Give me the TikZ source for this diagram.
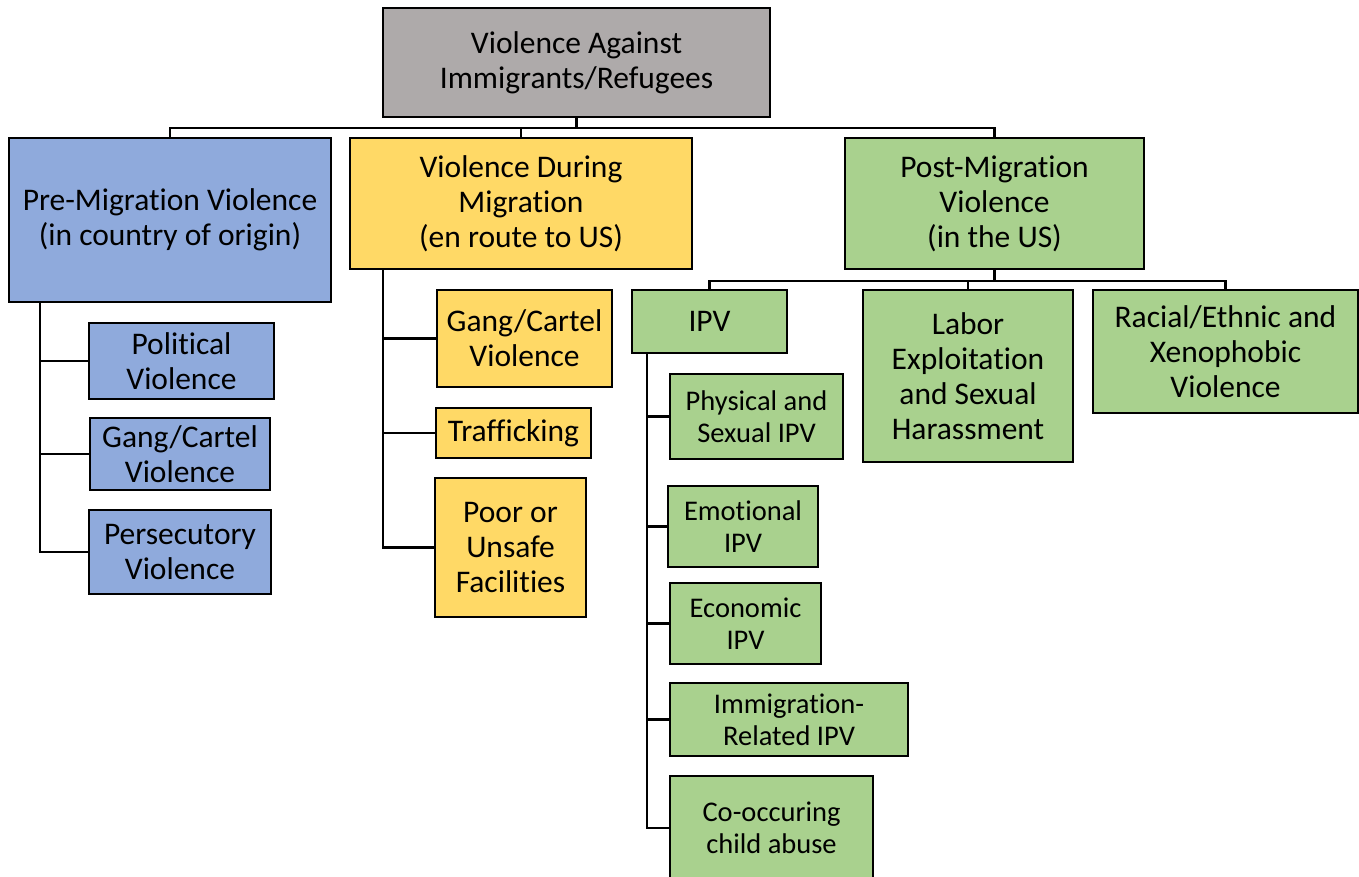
\documentclass[tikz,border=0pt]{standalone}
\usepackage{fontspec}
\setmainfont{Carlito}[Ligatures={NoCommon}]
\definecolor{cgray}{HTML}{AEAAAA}
\definecolor{cblue}{HTML}{8FAADC}
\definecolor{cyel}{HTML}{FFD966}
\definecolor{cgreen}{HTML}{A9D18E}
\begin{document}
\begin{tikzpicture}[x=1pt,y=-1pt,
  box/.style={draw=black, line width=2.5pt, align=center, inner sep=0pt,
    font=\fontsize{31.5}{35}\selectfont},
  sbox/.style={box, font=\fontsize{28.5}{32}\selectfont},
  gbox/.style={box, fill=cgray},
  bbox/.style={box, fill=cblue},
  ybox/.style={box, fill=cyel},
  grbox/.style={box, fill=cgreen},
  sgrbox/.style={sbox, fill=cgreen},
  conn/.style={draw=black, line width=2.2pt}]
\clip (0,0) rectangle (1359,877);
\fill[white] (0,0) rectangle (1359,877);

% level 0
\node[gbox, minimum width=387pt, minimum height=109pt] (top) at (576.5,62.5) {Violence Against\\Immigrants/Refugees};

% level 1
\node[bbox, minimum width=322pt, minimum height=164pt] (pre) at (170,220) {Pre-Migration Violence\\(in country of origin)};
\node[ybox, minimum width=342pt, minimum height=131pt] (dur) at (521,203.5) {Violence During\\Migration\\(en route to US)};
\node[grbox, minimum width=299pt, minimum height=131pt] (post) at (994.5,203.5) {Post-Migration\\Violence\\(in the US)};

% pre children
\node[bbox, minimum width=185pt, minimum height=76pt] (pol) at (181.5,361) {Political\\Violence};
\node[bbox, minimum width=180pt, minimum height=72pt] (gangA) at (180,454) {Gang/Cartel\\Violence};
\node[bbox, minimum width=182pt, minimum height=84pt] (pers) at (180,552) {Persecutory\\Violence};

% during children
\node[ybox, minimum width=175pt, minimum height=97pt] (gangB) at (524.5,338.5) {Gang/Cartel\\Violence};
\node[ybox, minimum width=155pt, minimum height=50pt] (traf) at (513.5,433) {Trafficking};
\node[ybox, minimum width=151pt, minimum height=139pt] (poor) at (510.5,547.5) {Poor or\\Unsafe\\Facilities};

% post children
\node[grbox, minimum width=155pt, minimum height=63pt] (ipv) at (709.5,321.5) {IPV};
\node[grbox, minimum width=210pt, minimum height=172pt] (labor) at (968,376) {Labor\\Exploitation\\and Sexual\\Harassment};
\node[grbox, minimum width=265pt, minimum height=123pt] (racial) at (1225.5,351.5) {Racial/Ethnic and\\Xenophobic\\Violence};

% IPV children
\node[sgrbox, minimum width=173pt, minimum height=85pt] (phys) at (756.5,416.5) {Physical and\\Sexual IPV};
\node[sgrbox, minimum width=150pt, minimum height=81pt] (emo) at (743,526.5) {Emotional\\IPV};
\node[sgrbox, minimum width=151pt, minimum height=81pt] (econ) at (745.5,623.5) {Economic\\IPV};
\node[sgrbox, minimum width=238pt, minimum height=73pt] (immig) at (789,719.5) {Immigration-\\Related IPV};
\node[sgrbox, minimum width=203pt, minimum height=104pt] (cooc) at (771.5,828) {Co-occuring\\child abuse};

% connectors: top level
\coordinate (busA) at (0,128);
\draw[conn] (top.south) -- (top.south |- busA);
\draw[conn] (pre.north) -- (pre.north |- busA) -- (post.north |- busA) -- (post.north);
\draw[conn] (dur.north) -- (dur.north |- busA);

% connectors: post
\coordinate (busB) at (0,281);
\draw[conn] (post.south) -- (post.south |- busB);
\draw[conn] (ipv.north) -- (ipv.north |- busB) -- (racial.north |- busB) -- (racial.north);
\draw[conn] (labor.north) -- (labor.north |- busB);

% connectors: pre
\coordinate (preV) at ([xshift=32pt]pre.south west);
\draw[conn] (preV) |- (pers.west);
\draw[conn] (preV |- pol.west) -- (pol.west);
\draw[conn] (preV |- gangA.west) -- (gangA.west);

% connectors: during
\coordinate (durV) at ([xshift=34pt]dur.south west);
\draw[conn] (durV) |- (poor.west);
\draw[conn] (durV |- gangB.west) -- (gangB.west);
\draw[conn] (durV |- traf.west) -- (traf.west);

% connectors: IPV
\coordinate (ipvV) at ([xshift=16pt]ipv.south west);
\draw[conn] (ipvV) |- (cooc.west);
\draw[conn] (ipvV |- phys.west) -- (phys.west);
\draw[conn] (ipvV |- emo.west) -- (emo.west);
\draw[conn] (ipvV |- econ.west) -- (econ.west);
\draw[conn] (ipvV |- immig.west) -- (immig.west);
\end{tikzpicture}
\end{document}
